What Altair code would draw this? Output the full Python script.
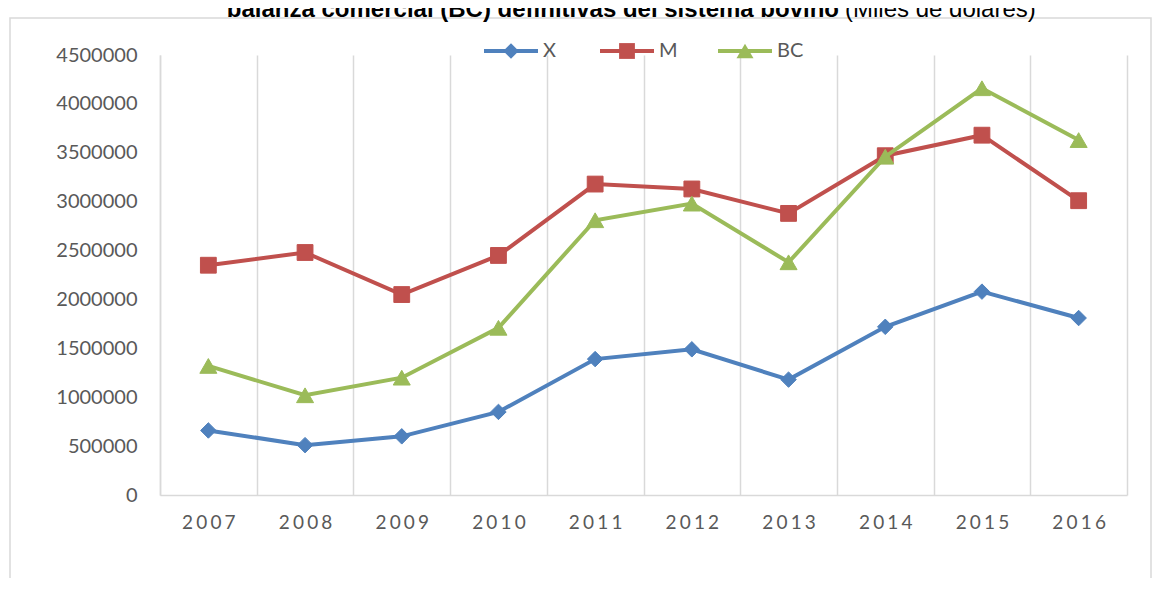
import altair as alt
import pandas as pd

# ---- data ----
years = ["2007", "2008", "2009", "2010", "2011", "2012", "2013", "2014", "2015", "2016"]
x_vals = [660000, 510000, 600000, 850000, 1390000, 1490000, 1180000, 1720000, 2080000, 1810000]
m_vals = [2350000, 2480000, 2050000, 2450000, 3180000, 3130000, 2880000, 3470000, 3680000, 3010000]
bc_vals = [1320000, 1020000, 1200000, 1710000, 2810000, 2980000, 2380000, 3460000, 4160000, 3630000]
series = ["X", "M", "BC"]
y_ticks = [0, 500000, 1000000, 1500000, 2000000, 2500000, 3000000, 3500000, 4000000, 4500000]
title_bold = "balanza comercial (BC) definitivas del sistema bovino"
title_normal = "(Miles de dólares)"

# ---- styles ----
colors = ["#4F81BD", "#C0504D", "#9BBB59"]
shapes = ["diamond", "square", "triangle-up"]
sizes = [240, 250, 290]
GRID = "#D9D9D9"
TXT = "#595959"
FONT = "Lato"

values_by_series = {"X": x_vals, "M": m_vals, "BC": bc_vals}
rows = []
for s in series:
    for yr, v in zip(years, values_by_series[s]):
        rows.append({"year": yr, "series": s, "value": v})
df = pd.DataFrame(rows)
deco = pd.DataFrame({"k": [0]})

x_enc = alt.X(
    "year:O", sort=years, bandPosition=0.5,
    scale=alt.Scale(type="band", paddingInner=0, paddingOuter=0),
    axis=alt.Axis(
        title=None, grid=True, tickBand="extent", gridColor=GRID, gridWidth=1.5,
        domainColor=GRID, domainWidth=1.5, ticks=False, labelAngle=0,
        labelFont=FONT, labelFontSize=19, labelColor=TXT, labelPadding=18,
        labelExpr="join(split(datum.label, ''), '\u2006')",
    ),
)
y_enc = alt.Y(
    "value:Q",
    scale=alt.Scale(domain=[0, 4500000], nice=False),
    axis=alt.Axis(
        title=None, values=y_ticks, format="d", grid=False, ticks=False, tickSize=0,
        domainColor=GRID, domainWidth=1.5, labelFont=FONT, labelFontSize=20,
        labelColor=TXT, labelPadding=23,
    ),
)
c_enc = alt.Color("series:N", scale=alt.Scale(domain=series, range=colors), legend=None)

base = alt.Chart(df).encode(x=x_enc, y=y_enc, color=c_enc)

layers = []
# outer frame
layers.append(
    alt.Chart(deco).mark_rect(fillOpacity=0, stroke=GRID, strokeWidth=1.5).encode(
        x=alt.value(-150), x2=alt.value(991), y=alt.value(-37), y2=alt.value(700)
    )
)
# title (clipped at the top like the reference)
layers.append(
    alt.Chart(deco).mark_text(
        text=title_bold, align="right", baseline="alphabetic", font="Liberation Sans",
        fontSize=24, fontWeight="bold", color="black"
    ).encode(x=alt.value(679), y=alt.value(-38))
)
layers.append(
    alt.Chart(deco).mark_text(
        text=title_normal, align="left", baseline="alphabetic", font="Liberation Sans",
        fontSize=24, color="black"
    ).encode(x=alt.value(685), y=alt.value(-38))
)

for s, col, shp, sz in zip(series, colors, shapes, sizes):
    sub = base.transform_filter(alt.datum.series == s)
    layers.append(sub.mark_line(strokeWidth=4))
    layers.append(sub.mark_point(filled=True, shape=shp, size=sz, opacity=1, strokeWidth=1, stroke=col))

# manual legend (line + marker + label), as in the reference
leg_x = [351, 467, 585]
for s, col, shp, sz, cx in zip(series, colors, shapes, sizes, leg_x):
    layers.append(
        alt.Chart(deco).mark_rule(color=col, strokeWidth=4).encode(
            x=alt.value(cx - 27), x2=alt.value(cx + 27), y=alt.value(-4)
        )
    )
    layers.append(
        alt.Chart(deco).mark_point(filled=True, shape=shp, size=sz, color=col, opacity=1).encode(
            x=alt.value(cx), y=alt.value(-4)
        )
    )
    layers.append(
        alt.Chart(deco).mark_text(
            text=s, align="left", baseline="middle", font=FONT, fontSize=20, color=TXT
        ).encode(x=alt.value(cx + 32), y=alt.value(-4))
    )

chart = alt.layer(*layers).properties(
    width=967, height=440,
    autosize=alt.AutoSizeParams(type="none"),
    padding={"left": 152, "top": 47, "right": 25, "bottom": 83},
).configure_view(strokeWidth=0)

chart.save("out.html", embed_options={"renderer": "svg", "actions": False})
